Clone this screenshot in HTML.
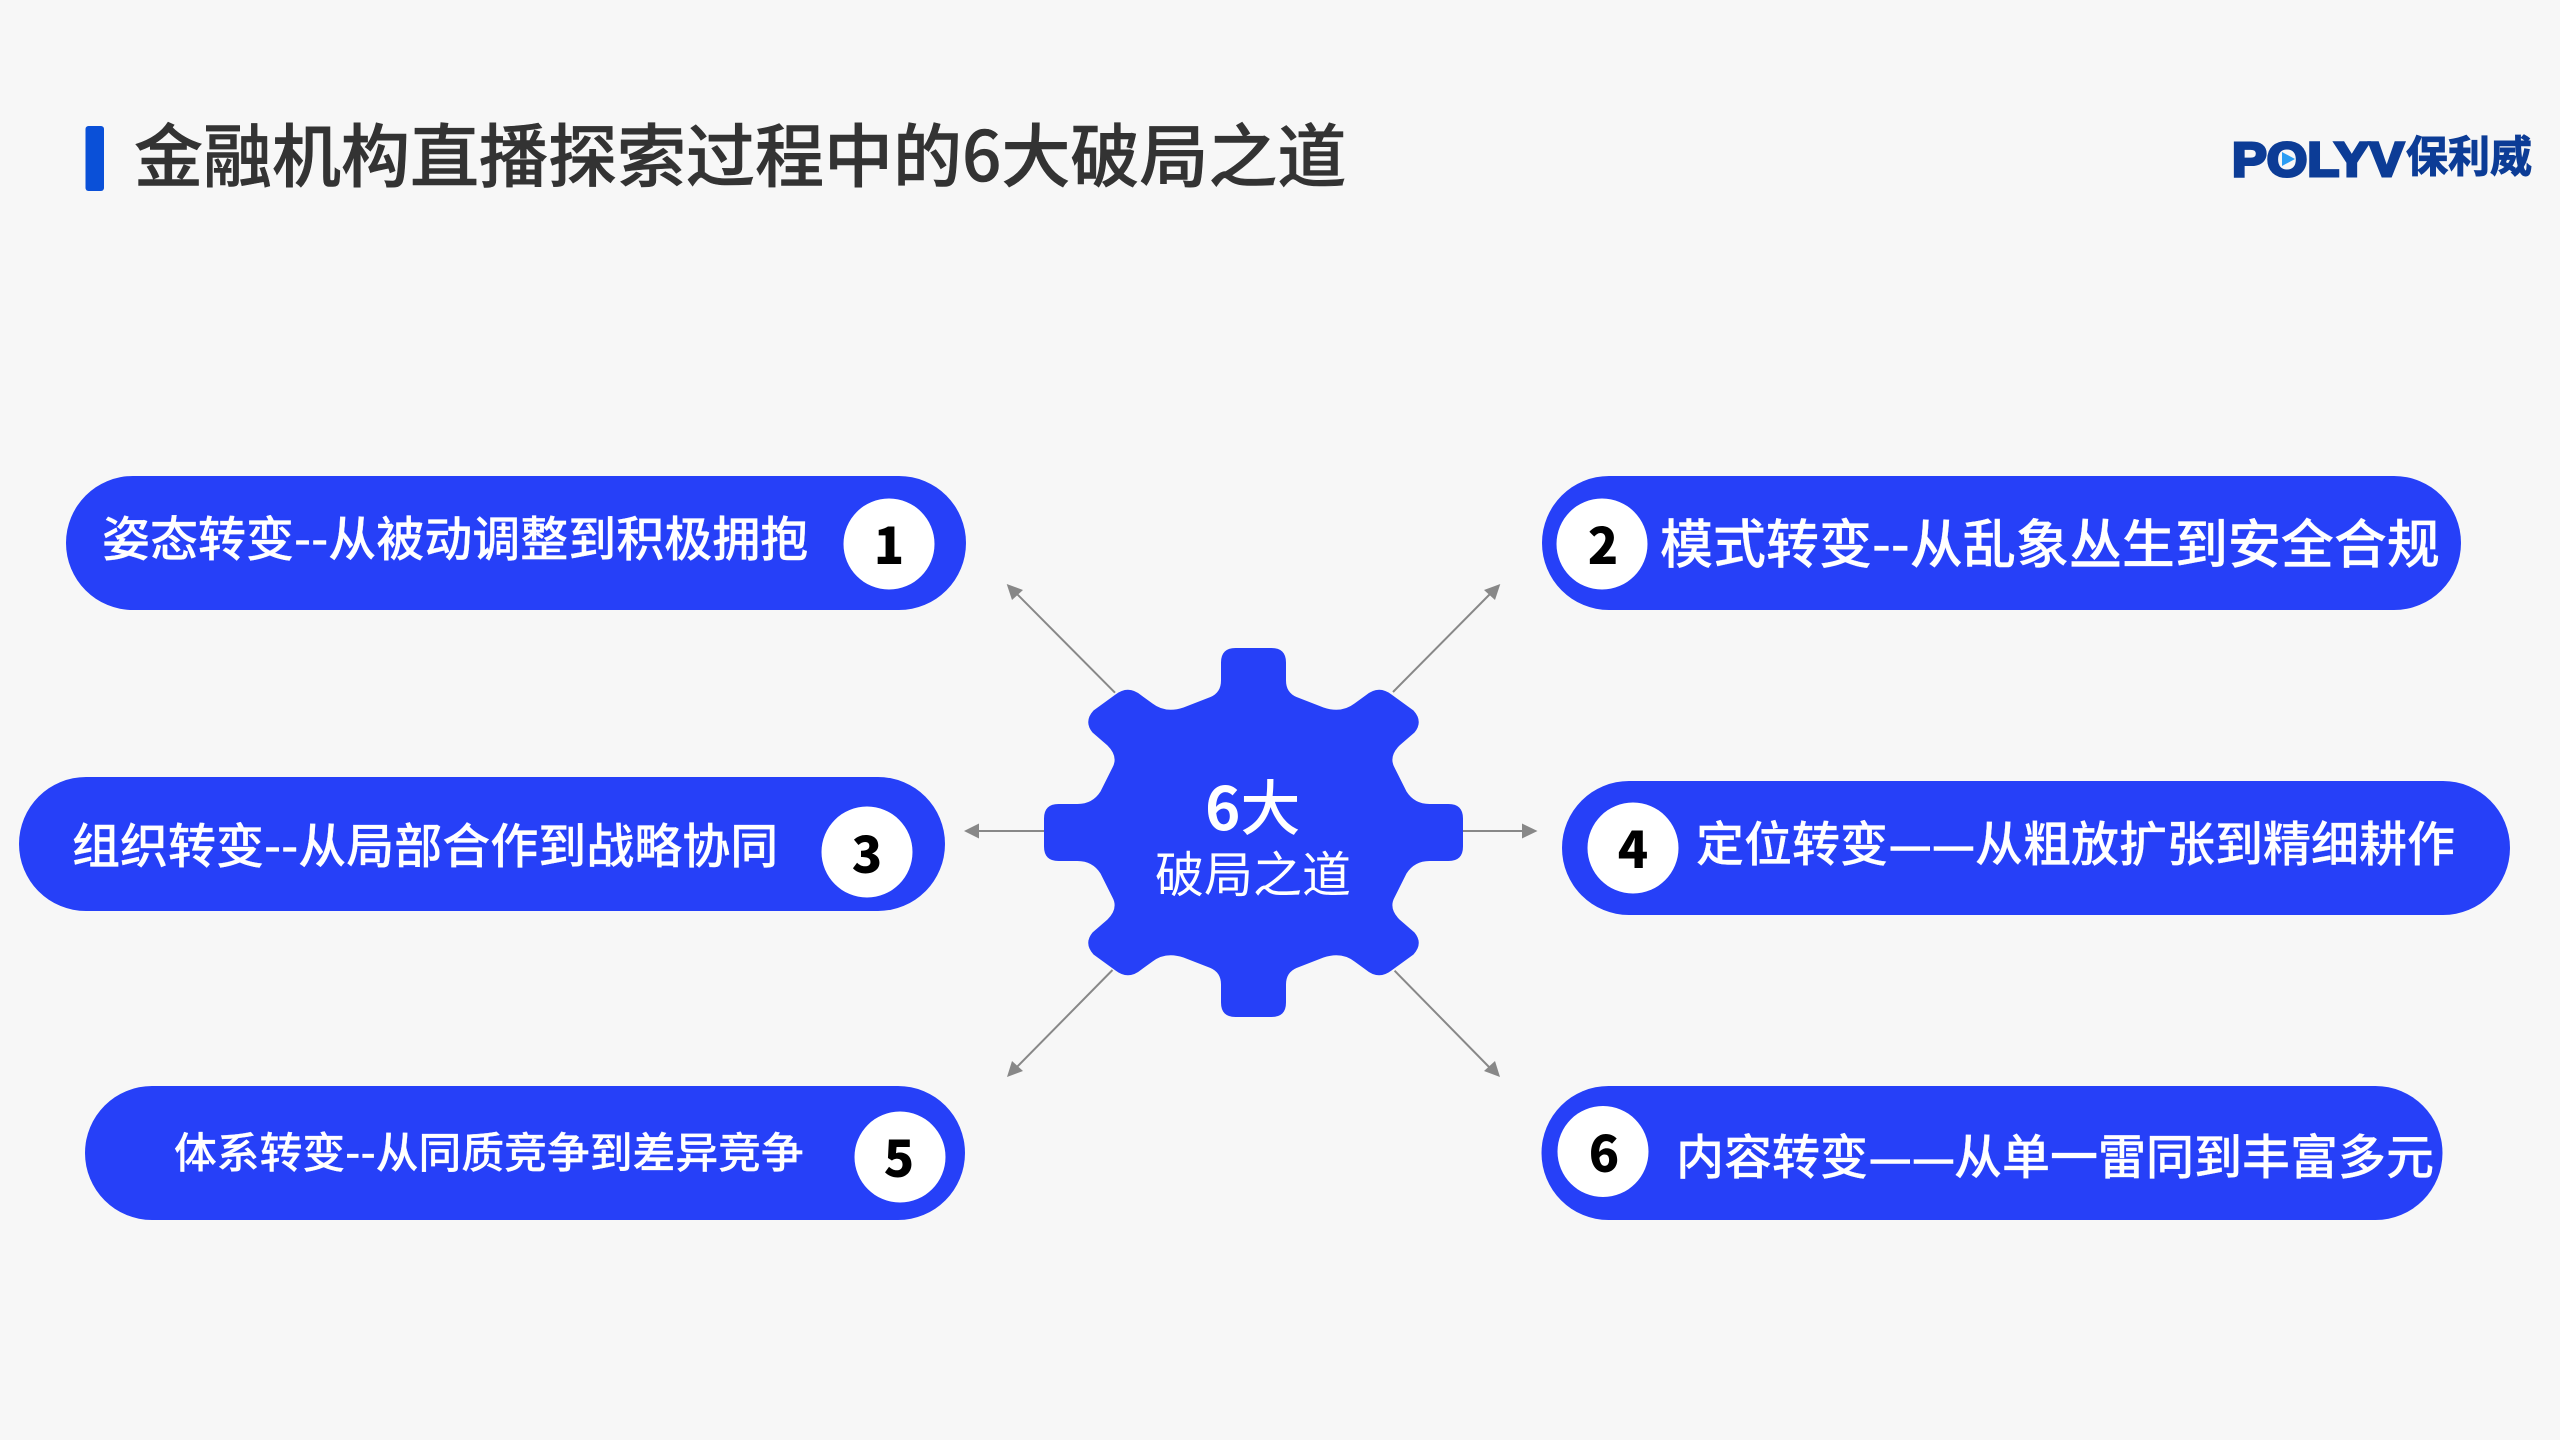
<!DOCTYPE html>
<html lang="zh-CN">
<head>
<meta charset="utf-8">
<title>金融机构直播探索过程中的6大破局之道</title>
<style>
html,body{margin:0;padding:0;background:#f7f7f7;width:2560px;height:1440px;overflow:hidden}
svg{display:block}
text{font-family:"Noto Sans CJK SC","Liberation Sans",sans-serif}
.p{fill:#fff;font-size:48px;font-weight:500;stroke:#fff;stroke-width:.2}
.d{fill:#fff;font-size:39px;font-weight:700;font-family:"Liberation Sans",sans-serif;stroke:#fff;stroke-width:.5}
.n{fill:#000;font-size:50px;font-weight:900;text-anchor:middle}
.l{stroke:#888;stroke-width:2;fill:none}
.h{fill:#888}
</style>
</head>
<body>
<svg width="2560" height="1440" viewBox="0 0 2560 1440" xmlns="http://www.w3.org/2000/svg">
<rect width="2560" height="1440" fill="#f7f7f7"/>

<!-- title -->
<rect x="85.5" y="126" width="18.5" height="65" rx="3" fill="#0a50d8"/>
<text x="134" y="181" font-size="69" font-weight="500" fill="#333" stroke="#333" stroke-width=".6">金融机构直播探索过程中的6大破局之道</text>

<!-- logo -->
<text x="2232" y="176" font-size="48" font-weight="700" style="font-family:'Liberation Sans',sans-serif" fill="#0c3c96" stroke="#0c3c96" stroke-width="3" textLength="172" lengthAdjust="spacingAndGlyphs">POLYV</text>
<polygon points="2282,152 2295,159 2282,166" fill="#2a9df4"/>
<text x="2406" y="172" font-size="43" font-weight="700" fill="#0c3c96" stroke="#0c3c96" stroke-width="1" textLength="126" lengthAdjust="spacingAndGlyphs">保利威</text>

<!-- arrows -->
<line class="l" x1="1115" y1="692.7" x2="1015" y2="592"/>
<polygon class="h" points="1006.7,584 1023,590 1012,600"/>
<line class="l" x1="1393" y1="692" x2="1491" y2="593"/>
<polygon class="h" points="1500.3,584 1495,600 1484,590"/>
<line class="l" x1="1112.5" y1="970" x2="1015" y2="1069"/>
<polygon class="h" points="1007,1077 1012,1061 1023,1071"/>
<line class="l" x1="1394.6" y1="970.7" x2="1491" y2="1069"/>
<polygon class="h" points="1500,1077 1484,1071 1495,1061"/>
<line class="l" x1="1044" y1="831" x2="975" y2="831"/>
<polygon class="h" points="964,831 979,823.5 979,838.5"/>
<line class="l" x1="1463" y1="831" x2="1525" y2="831"/>
<polygon class="h" points="1537.5,831 1522,823.5 1522,838.5"/>

<!-- gear -->
<path transform="translate(1253.5 832.5)" fill="#2640f8" d="M0,-184.5 L-18,-184.5 Q-32.5,-184.5 -32.5,-170 L-32.5,-152 Q-32.5,-140 -43,-135.5 L-70,-125 Q-88,-119 -101,-129 L-112,-137 Q-125,-148 -138,-138 L-160,-122 Q-170,-111 -161,-100 L-146,-87 Q-135,-76 -141,-65 L-153,-41 Q-161,-28.5 -176,-28.5 L-195,-28.5 Q-209.5,-28.5 -209.5,-14 L-209.5,0 L-209.5,14 Q-209.5,28.5 -195,28.5 L-176,28.5 Q-161,28.5 -153,41 L-141,65 Q-135,76 -146,87 L-161,100 Q-170,111 -160,122 L-138,138 Q-125,148 -112,137 L-101,129 Q-88,119 -70,125 L-43,135.5 Q-32.5,140 -32.5,152 L-32.5,170 Q-32.5,184.5 -18,184.5 L0,184.5 L18,184.5 Q32.5,184.5 32.5,170 L32.5,152 Q32.5,140 43,135.5 L70,125 Q88,119 101,129 L112,137 Q125,148 138,138 L160,122 Q170,111 161,100 L146,87 Q135,76 141,65 L153,41 Q161,28.5 176,28.5 L195,28.5 Q209.5,28.5 209.5,14 L209.5,0 L209.5,-14 Q209.5,-28.5 195,-28.5 L176,-28.5 Q161,-28.5 153,-41 L141,-65 Q135,-76 146,-87 L161,-100 Q170,-111 160,-122 L138,-138 Q125,-148 112,-137 L101,-129 Q88,-119 70,-125 L43,-135.5 Q32.5,-140 32.5,-152 L32.5,-170 Q32.5,-184.5 18,-184.5 Z"/>
<text x="1205" y="830" fill="#fff" font-size="60" font-weight="700">6<tspan font-weight="500">大</tspan></text>
<text x="1155" y="892" fill="#fff" font-size="49" font-weight="400">破局之道</text>

<!-- pills -->
<rect x="66" y="476" width="900" height="134" rx="67" fill="#2640f8"/>
<circle cx="889" cy="544" r="45.5" fill="#fff"/>
<text class="p" x="102" y="556">姿态转变--从被动调整到积极拥抱</text>
<text class="n" x="889" y="564">1</text>

<rect x="1542" y="476" width="919" height="134" rx="67" fill="#2640f8"/>
<circle cx="1602" cy="544" r="45.5" fill="#fff"/>
<text class="p" x="1660" y="563" style="font-size:53px">模式转变--从乱象丛生到安全合规</text>
<text class="n" x="1603" y="564">2</text>

<rect x="19" y="777" width="926" height="134" rx="67" fill="#2640f8"/>
<circle cx="867" cy="852" r="45.5" fill="#fff"/>
<text class="p" x="72" y="863">组织转变--从局部合作到战略协同</text>
<text class="n" x="867" y="873">3</text>

<rect x="1562" y="781" width="948" height="134" rx="67" fill="#2640f8"/>
<circle cx="1633" cy="848" r="45.5" fill="#fff"/>
<text class="p" x="1696" y="861">定位转变</text>
<text class="d" x="1890.7" y="859">—</text>
<text class="d" x="1934" y="859">—</text>
<text class="p" x="1975" y="861">从粗放扩张到精细耕作</text>
<text class="n" x="1633" y="868">4</text>

<rect x="85" y="1086" width="880" height="134" rx="67" fill="#2640f8"/>
<circle cx="900" cy="1157" r="45.5" fill="#fff"/>
<text class="p" x="174" y="1168" style="font-size:42.8px">体系转变--从同质竞争到差异竞争</text>
<text class="n" x="899" y="1177">5</text>

<rect x="1541.5" y="1086" width="901" height="134" rx="67" fill="#2640f8"/>
<circle cx="1603" cy="1151.5" r="45.5" fill="#fff"/>
<text class="p" x="1676" y="1174">内容转变</text>
<text class="d" x="1870.7" y="1172">—</text>
<text class="d" x="1914" y="1172">—</text>
<text class="p" x="1954" y="1174">从单一雷同到丰富多元</text>
<text class="n" x="1604" y="1172">6</text>
</svg>
</body>
</html>
